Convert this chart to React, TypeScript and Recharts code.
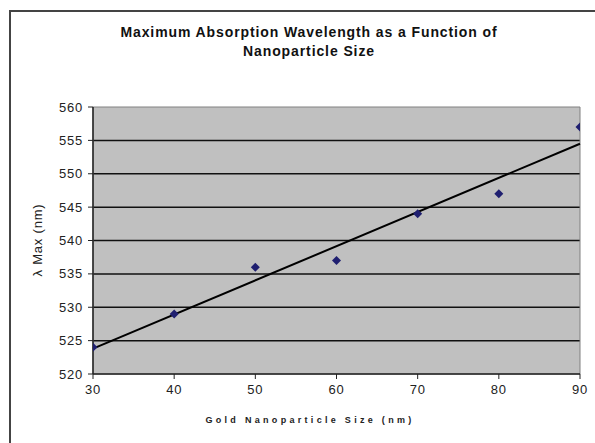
import {
  ScatterChart,
  Scatter,
  XAxis,
  YAxis,
  CartesianGrid,
  ReferenceArea,
  ReferenceLine,
} from "recharts";

// Gold nanoparticle size (nm) vs. wavelength of maximum absorption (nm)
const sizes = [30, 40, 50, 60, 70, 80, 90];
const lambdaMax = [524, 529, 536, 537, 544, 547, 557];

// linear trendline endpoints
const trendX = [30, 90];
const trendY = [523.8, 554.5];

const xTicks = [30, 40, 50, 60, 70, 80, 90];
const yTicks = [520, 525, 530, 535, 540, 545, 550, 555, 560];
const gridLines = [525, 530, 535, 540, 545, 550, 555];

const points = sizes.map((x, i) => ({ x, y: lambdaMax[i] }));

const FONT = "'Liberation Sans', Arial, sans-serif";

function Diamond(props: any) {
  const { cx, cy } = props;
  const r = 4.5;
  return (
    <polygon
      points={`${cx},${cy - r} ${cx + r},${cy} ${cx},${cy + r} ${cx - r},${cy}`}
      fill="#1f1f70"
    />
  );
}

const tickStyle = { fill: "#222", fontSize: 13, fontFamily: FONT, letterSpacing: 0.8 };

export default function App() {
  return (
    <div
      style={{
        position: "absolute",
        left: 0,
        top: 0,
        width: 595,
        height: 443,
        background: "#fff",
        overflow: "hidden",
        fontFamily: FONT,
      }}
    >
      {/* chart frame */}
      <div
        style={{
          position: "absolute",
          left: 9,
          top: 10,
          width: 620,
          height: 460,
          border: "2px solid #444",
          boxSizing: "border-box",
        }}
      />
      <div
        style={{
          position: "absolute",
          left: 309,
          top: 23,
          transform: "translateX(-50%)",
          whiteSpace: "nowrap",
          textAlign: "center",
          fontWeight: "bold",
          fontSize: 14,
          letterSpacing: 0.9,
          lineHeight: "19px",
          color: "#111",
        }}
      >
        Maximum Absorption Wavelength as a Function of
        <br />
        Nanoparticle Size
      </div>
      <div
        style={{
          position: "absolute",
          left: 37,
          top: 240,
          transform: "translate(-50%, -50%) rotate(-90deg)",
          whiteSpace: "nowrap",
          fontSize: 13,
          letterSpacing: 0.8,
          color: "#222",
        }}
      >
        λ Max (nm)
      </div>
      <div
        style={{
          position: "absolute",
          left: 310,
          top: 420,
          transform: "translate(-50%, -50%)",
          whiteSpace: "nowrap",
          fontSize: 9,
          fontWeight: "bold",
          letterSpacing: 3.3,
          color: "#222",
        }}
      >
        Gold Nanoparticle Size (nm)
      </div>
      <div style={{ position: "absolute", left: 0, top: 0 }}>
        <ScatterChart
          width={595}
          height={443}
          margin={{ top: 107, right: 15, bottom: 39, left: 33 }}
        >
          <CartesianGrid
            fill="#c0c0c0"
            stroke="#111"
            strokeWidth={1.5}
            vertical={false}
            horizontalValues={gridLines}
          />
          <ReferenceArea
            x1={30}
            x2={90}
            y1={520}
            y2={560}
            fill="none"
            stroke="#808080"
            strokeWidth={1}
          />
          <XAxis
            type="number"
            dataKey="x"
            domain={[30, 90]}
            ticks={xTicks}
            height={30}
            axisLine={{ stroke: "#222", strokeWidth: 1.5 }}
            tickLine={{ stroke: "#222" }}
            tickSize={5}
            tickMargin={6}
            tick={tickStyle}
            allowDataOverflow
          />
          <YAxis
            type="number"
            dataKey="y"
            domain={[520, 560]}
            ticks={yTicks}
            width={60}
            axisLine={{ stroke: "#222", strokeWidth: 1.5 }}
            tickLine={{ stroke: "#222" }}
            tickSize={5}
            tickMargin={5}
            tick={tickStyle}
            allowDataOverflow
          />
          <ReferenceLine
            segment={[
              { x: trendX[0], y: trendY[0] },
              { x: trendX[1], y: trendY[1] },
            ]}
            stroke="#000"
            strokeWidth={2}
            ifOverflow="visible"
          />
          <Scatter
            data={points}
            shape={<Diamond />}
            isAnimationActive={false}
          />
        </ScatterChart>
      </div>
    </div>
  );
}
